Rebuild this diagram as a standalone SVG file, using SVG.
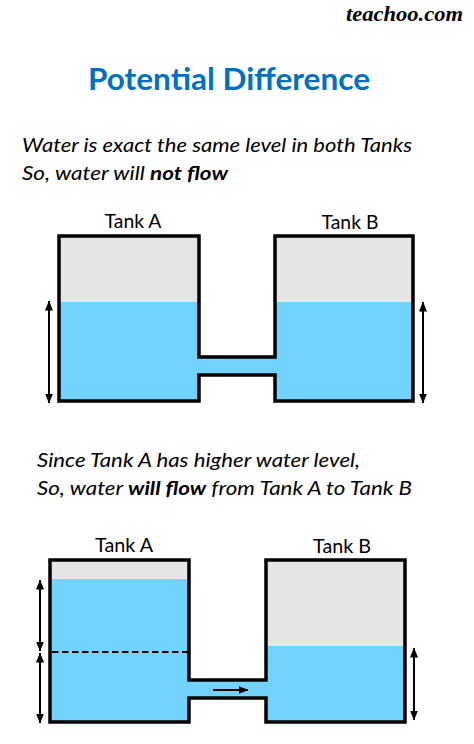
<svg xmlns="http://www.w3.org/2000/svg" width="474" height="744" viewBox="0 0 474 744">
<style>
.bg{fill:#ffffff}
.air{fill:#E5E5E5}
.water{fill:#72D4FE}
.wall{fill:none;stroke:#000;stroke-width:3.5;stroke-linejoin:miter}
.arr{stroke:#000;stroke-width:2;fill:none}
.txt{font-family:Lato,"Open Sans",sans-serif;fill:#000}
.lbl{font-family:Lato,"Open Sans",sans-serif;font-size:19px;fill:#000}
.it{font-family:Lato,"Open Sans",sans-serif;font-style:italic;font-size:19px;fill:#000}
</style>
<defs>
<marker id="ah" viewBox="0 0 10 8" refX="9.5" refY="4" markerWidth="10" markerHeight="8" markerUnits="userSpaceOnUse" orient="auto-start-reverse">
<path d="M0,0 L10,4 L0,8 Z" fill="#000"/>
</marker>
</defs>
<rect class="bg" x="0" y="0" width="474" height="744"/>
<text x="463" y="21" text-anchor="end" font-family="'Liberation Serif',serif" font-weight="bold" font-style="italic" font-size="22" textLength="117" lengthAdjust="spacingAndGlyphs" fill="#000">teachoo.com</text>
<text x="229" y="90" text-anchor="middle" font-family="Lato,'Open Sans',sans-serif" font-weight="bold" font-size="30" fill="#0070C0" textLength="282" lengthAdjust="spacingAndGlyphs">Potential Difference</text>
<text class="it" x="22" y="152" textLength="390" lengthAdjust="spacingAndGlyphs">Water is exact the same level in both Tanks</text>
<text class="it" x="22" y="180" textLength="206" lengthAdjust="spacingAndGlyphs">So, water will <tspan font-weight="bold">not flow</tspan></text>

<g id="top-tank-a">
<rect class="air" x="59" y="236" width="140" height="165"/>
<rect class="water" x="59" y="302" width="140" height="99"/>
<text class="lbl" x="133" y="228" text-anchor="middle" textLength="57" lengthAdjust="spacingAndGlyphs">Tank A</text>
</g>
<g id="top-tank-b">
<rect class="air" x="275" y="236" width="138" height="165"/>
<rect class="water" x="275" y="302" width="138" height="99"/>
<text class="lbl" x="350" y="229" text-anchor="middle" textLength="57" lengthAdjust="spacingAndGlyphs">Tank B</text>
</g>
<g id="top-pipe">
<rect class="water" x="197" y="357" width="80" height="18"/>
</g>
<path class="wall" d="M59,236 H199 V357 H275 V236 H413 V401 H275 V375 H199 V401 H59 Z"/>

<text class="it" x="37" y="467" textLength="323" lengthAdjust="spacingAndGlyphs">Since Tank A has higher water level,</text>
<text class="it" x="37" y="495" textLength="375" lengthAdjust="spacingAndGlyphs">So, water <tspan font-weight="bold">will flow</tspan> from Tank A to Tank B</text>

<g id="bottom-tank-a">
<rect class="air" x="50" y="560" width="139" height="162"/>
<rect class="water" x="50" y="579" width="139" height="143"/>
<line x1="52" y1="652" x2="188" y2="652" stroke="#000" stroke-width="2" stroke-dasharray="6.5,3.5"/>
<text class="lbl" x="124" y="552" text-anchor="middle" textLength="58" lengthAdjust="spacingAndGlyphs">Tank A</text>
</g>
<g id="bottom-tank-b">
<rect class="air" x="266" y="560" width="139" height="162"/>
<rect class="water" x="266" y="646" width="139" height="76"/>
<text class="lbl" x="342" y="553" text-anchor="middle" textLength="58" lengthAdjust="spacingAndGlyphs">Tank B</text>
</g>
<g id="bottom-pipe">
<rect class="water" x="187" y="680" width="81" height="18"/>
</g>
<path class="wall" d="M50,560 H189 V680 H266 V560 H405 V722 H266 V698 H189 V722 H50 Z"/>

<g id="connectors">
<line class="arr" x1="49" y1="301" x2="49" y2="403" marker-start="url(#ah)" marker-end="url(#ah)"/>
<line class="arr" x1="423" y1="302" x2="423" y2="403" marker-start="url(#ah)" marker-end="url(#ah)"/>
<line class="arr" x1="40" y1="580" x2="40" y2="651" marker-start="url(#ah)" marker-end="url(#ah)"/>
<line class="arr" x1="40" y1="653" x2="40" y2="723" marker-start="url(#ah)" marker-end="url(#ah)"/>
<line class="arr" x1="414" y1="648" x2="414" y2="720" marker-start="url(#ah)" marker-end="url(#ah)"/>
<line class="arr" x1="213" y1="690" x2="248" y2="690" marker-end="url(#ah)"/>
</g>
</svg>
